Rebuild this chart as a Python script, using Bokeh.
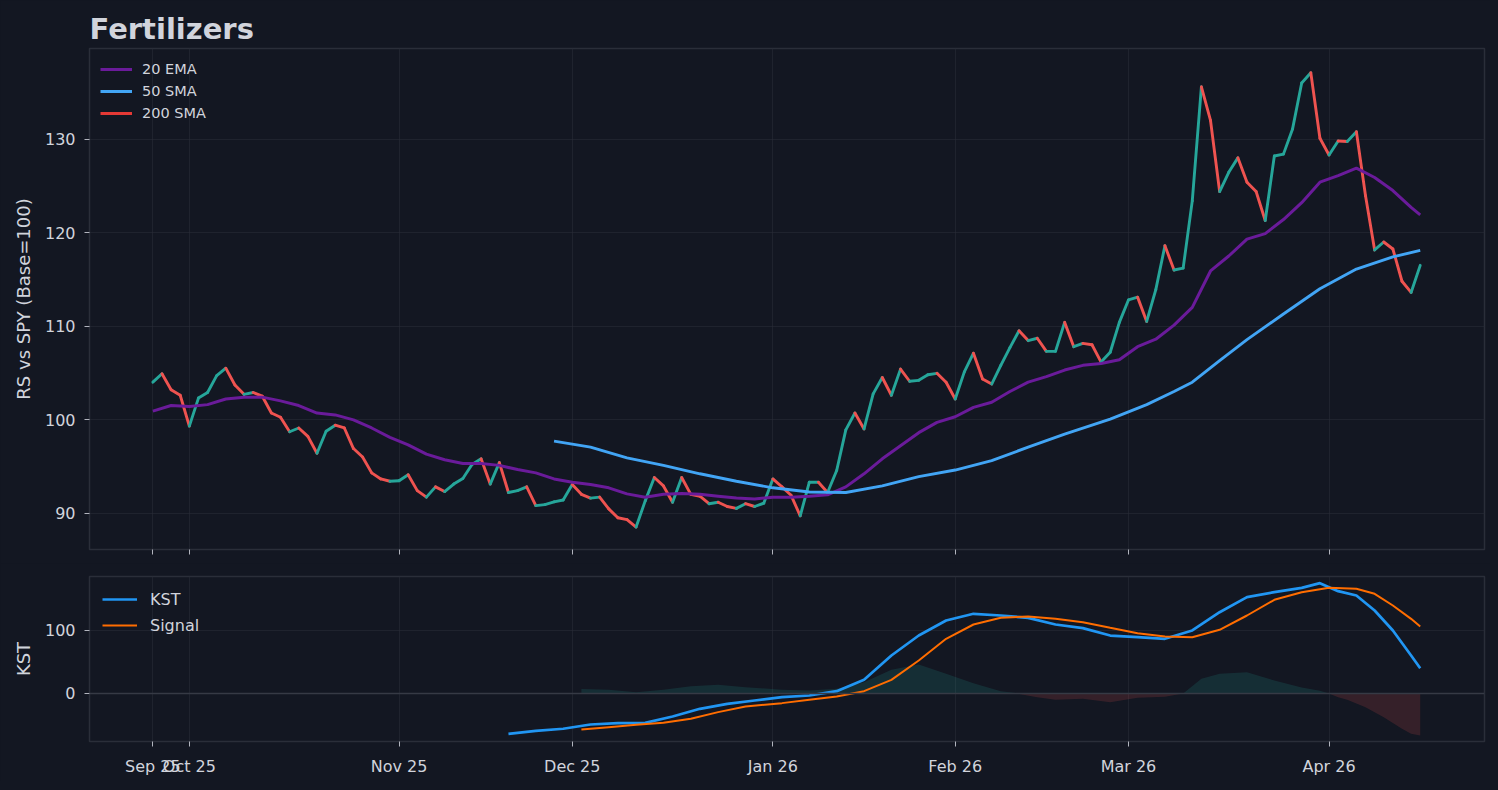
import numpy as np
import pandas as pd
from bokeh.plotting import figure
from bokeh.layouts import column
from bokeh.models import Range1d, FixedTicker, Legend, LegendItem, ColumnDataSource, Span
from bokeh.embed import file_html
from bokeh.resources import INLINE

# ---------------- data ----------------
holidays = ["2025-11-27", "2025-12-25", "2026-01-01", "2026-01-19", "2026-02-16", "2026-04-03"]
dates = pd.bdate_range("2025-09-25", "2026-04-16", freq="C", holidays=holidays)

rs_price = [
    104.0, 104.9, 103.2, 102.6, 99.3, 102.3, 102.9, 104.7, 105.5, 103.7,
    102.7, 102.9, 102.5, 100.7, 100.25, 98.7, 99.1, 98.2, 96.4, 98.75,
    99.4, 99.1, 96.9, 96.0, 94.3, 93.65, 93.4, 93.45, 94.1, 92.4,
    91.7, 92.8, 92.3, 93.1, 93.7, 95.2, 95.8, 93.1, 95.4, 92.2,
    92.4, 92.8, 90.8, 90.9, 91.2, 91.4, 93.05, 92.0, 91.6, 91.7,
    90.45, 89.5, 89.3, 88.5, 91.3, 93.8, 92.9, 91.15, 93.8, 92.0,
    91.8, 91.0, 91.15, 90.7, 90.5, 91.0, 90.7, 91.05, 93.65, 92.8,
    91.9, 89.7, 93.3, 93.3, 92.2, 94.55, 98.9, 100.7, 99.0, 102.75,
    104.5, 102.6, 105.4, 104.1, 104.2, 104.8, 104.95, 104.0, 102.2, 105.1,
    107.1, 104.35, 103.8, 105.8, 107.7, 109.5, 108.45, 108.7, 107.3, 107.3,
    110.4, 107.8, 108.15, 108.0, 106.15, 107.2, 110.4, 112.8, 113.1, 110.5,
    113.9, 118.6, 116.0, 116.2, 123.4, 135.6, 132.0, 124.4, 126.45, 128.0,
    125.4, 124.4, 121.3, 128.2, 128.4, 131.1, 136.0, 137.1, 130.1, 128.3,
    129.8, 129.75, 130.8, 123.95, 118.15, 119.0, 118.25, 114.8, 113.6, 116.5,
]

ema20_idx = list(range(0, 139, 2)) + [139]
ema20 = [
    100.9, 101.5, 101.4, 101.6, 102.2, 102.4, 102.4, 102.0, 101.5, 100.7,
    100.5, 99.97, 99.1, 98.1, 97.3, 96.3, 95.7, 95.3, 95.3, 95.1,
    94.65, 94.3, 93.65, 93.3, 93.05, 92.7, 92.05, 91.7, 92.0, 92.1,
    92.0, 91.8, 91.6, 91.5, 91.7, 91.7, 91.8, 91.95, 92.8, 94.2,
    95.8, 97.2, 98.6, 99.7, 100.3, 101.3, 101.85, 103.0, 104.0, 104.6,
    105.3, 105.8, 106.0, 106.4, 107.8, 108.6, 110.1, 112.0, 115.9, 117.5,
    119.3, 119.9, 121.4, 123.2, 125.4, 126.1, 126.9, 125.9, 124.5, 122.7,
    121.9,
]

sma50_idx = [44, 48, 52, 56, 60, 64, 68, 72, 76, 80, 84, 88, 92, 96, 100, 105,
             109, 112, 114, 117, 120, 124, 128, 132, 136, 139]
sma50 = [97.7, 97.05, 95.9, 95.1, 94.2, 93.4, 92.7, 92.25, 92.2, 92.9, 93.9, 94.6,
         95.6, 97.05, 98.45, 100.05, 101.6, 103.0, 104.0, 106.3, 108.55, 111.3, 114.0,
         116.1, 117.4, 118.1]

# 200 SMA: not enough history in the window -> no visible values, legend entry only
sma200_idx = [0, 1]
sma200 = [float("nan"), float("nan")]

kst_idx = [39, 42, 45, 48, 51, 54, 57, 60, 63, 66, 69, 72, 75, 78, 81, 84, 87, 90,
           93, 96, 99, 102, 105, 108, 111, 114, 117, 120, 123, 126, 128, 130, 132,
           134, 136, 138, 139]
kst = [-64, -59.3, -56, -49.2, -47.1, -46.6, -36.5, -24.3, -16.4, -11.1, -5.8, -3.2,
       3.7, 21.7, 60.3, 92, 115.9, 126.5, 123.8, 120.1, 109.5, 103.7, 92, 89.4, 86.8,
       100, 129, 152.9, 160.8, 167.7, 175.1, 162.4, 155.6, 131.7, 100, 60.3, 40.2]

signal_idx = [47, 50, 53, 56, 59, 62, 65, 69, 72, 75, 78, 81, 84, 87, 90, 93, 96, 99,
              102, 105, 108, 111, 114, 117, 120, 123, 126, 129, 132, 134, 136, 138, 139]
signal = [-57, -53.4, -49.8, -46.6, -40.2, -29.6, -20.6, -15.3, -10, -4.8, 3.7, 21.7,
          52.4, 86.8, 109.5, 120.1, 122.2, 118.5, 113.2, 104.2, 95.7, 90.5, 89.4, 101.1,
          123.8, 148.7, 160.8, 167.7, 166.2, 158.2, 139.7, 118.5, 106.3]

hist_idx = [47, 50, 53, 56, 59, 62, 65, 69, 72, 75, 78, 81, 84, 87, 90, 93, 95, 97,
            99, 102, 105, 108, 111, 113, 115, 117, 120, 123, 126, 128, 129, 130, 131,
            133, 135, 137, 138, 139]
hist = [7, 6, 2, 6, 11.6, 14, 10, 6, 4.8, 7.4, 18, 37.6, 46, 31.2, 16.4, 3.7, -1, -5.8,
        -10, -8.5, -13.8, -6.9, -5.3, 0, 23.3, 31.2, 33.9, 20.6, 9.5, 4.2, 0, -6, -10,
        -21.7, -37.6, -56, -64, -66.7]

y_ticks_rs = [90, 100, 110, 120, 130]
y_ticks_kst = [0, 100]

# month tick positions (first trading day of each month, index based)
month_first = {}
for i, d in enumerate(dates):
    key = (d.year, d.month)
    if key not in month_first:
        month_first[key] = i
tick_idx = list(month_first.values())
tick_labels = [dates[i].strftime("%b %y") for i in tick_idx]

# ---------------- style ----------------
BG = "#131722"
TXT = "#d1d4dc"
GRID = "#2a2e39"
FONT = "DejaVu Sans"
UP = "#26a69a"
DOWN = "#ef5350"

xr = Range1d(-6.95, 146.05)


def style(f):
    f.background_fill_color = BG
    f.border_fill_color = BG
    f.outline_line_color = GRID
    f.outline_line_width = 1.5
    f.grid.grid_line_color = GRID
    f.grid.grid_line_alpha = 0.55
    for ax in f.axis:
        ax.axis_line_color = None
        ax.major_tick_line_color = "#b2b5be"
        ax.major_tick_line_width = 1
        ax.major_tick_out = 5
        ax.major_tick_in = 0
        ax.minor_tick_line_color = None
        ax.major_label_text_color = TXT
        ax.major_label_text_font = FONT
        ax.major_label_text_font_size = "16px"
        ax.axis_label_text_color = TXT
        ax.axis_label_text_font = FONT
        ax.axis_label_text_font_size = "18px"
        ax.axis_label_text_font_style = "normal"


def style_legend(lg, size, gw, standoff, spacing, margin):
    lg.background_fill_alpha = 0
    lg.border_line_color = None
    lg.label_text_color = TXT
    lg.label_text_font = FONT
    lg.label_text_font_size = size
    lg.glyph_width = gw
    lg.label_standoff = standoff
    lg.spacing = spacing
    lg.margin = margin
    lg.padding = 10


# ---------------- top panel ----------------
p = figure(width=1490, height=563, x_range=xr, y_range=Range1d(86.1, 139.7),
           output_backend="svg", toolbar_location=None,
           min_border_left=89, min_border_right=6, min_border_top=48, min_border_bottom=14)
style(p)
p.title.text = "Fertilizers"
p.title.text_font = FONT
p.title.text_font_size = "29px"
p.title.text_font_style = "bold"
p.title.text_color = TXT
p.title.standoff = 5
p.title.align = "left"

p.xaxis.ticker = FixedTicker(ticks=tick_idx)
p.xaxis.major_label_text_font_size = "0px"
p.xaxis.major_label_text_color = None
p.xaxis.major_label_standoff = 0
p.yaxis.ticker = FixedTicker(ticks=y_ticks_rs)
p.yaxis.axis_label = "RS vs SPY (Base=100)"
p.yaxis.major_label_standoff = 9
p.yaxis.axis_label_standoff = 8

n = len(rs_price)
seg = ColumnDataSource(dict(
    x0=list(range(n - 1)), x1=list(range(1, n)),
    y0=rs_price[:-1], y1=rs_price[1:],
    c=[UP if rs_price[i + 1] >= rs_price[i] else DOWN for i in range(n - 1)],
))
p.segment(x0="x0", y0="y0", x1="x1", y1="y1", color="c", line_width=2.9,
          line_cap="round", source=seg)

r_ema = p.line(ema20_idx, ema20, color="#6a1b9a", line_width=3)
r_sma50 = p.line(sma50_idx, sma50, color="#42a5f5", line_width=2.9)
r_sma200 = p.line(sma200_idx, sma200, color="#e53935", line_width=2.9)

leg = Legend(items=[LegendItem(label="20 EMA", renderers=[r_ema]),
                    LegendItem(label="50 SMA", renderers=[r_sma50]),
                    LegendItem(label="200 SMA", renderers=[r_sma200])],
             location="top_left")
style_legend(leg, "14.5px", 32, 10, 2, 11)
p.add_layout(leg)

# ---------------- bottom panel ----------------
q = figure(width=1490, height=218, x_range=xr, y_range=Range1d(-76.2, 185.7),
           output_backend="svg", toolbar_location=None,
           min_border_left=89, min_border_right=6, min_border_top=13, min_border_bottom=40)
style(q)
q.xaxis.ticker = FixedTicker(ticks=tick_idx)
q.xaxis.major_label_overrides = {i: lab for i, lab in zip(tick_idx, tick_labels)}
q.xaxis.major_label_standoff = 10
q.yaxis.ticker = FixedTicker(ticks=y_ticks_kst)
q.yaxis.axis_label = "KST"
q.yaxis.major_label_standoff = 9
q.yaxis.axis_label_standoff = 8

h = np.array(hist, dtype=float)
q.varea(x=hist_idx, y1=np.zeros_like(h), y2=np.maximum(h, 0), fill_color=UP, fill_alpha=0.16)
q.varea(x=hist_idx, y1=np.zeros_like(h), y2=np.minimum(h, 0), fill_color=DOWN, fill_alpha=0.16)
q.add_layout(Span(location=0, dimension="width", line_color="#363a45", line_width=1.5))

r_kst = q.line(kst_idx, kst, color="#2196f3", line_width=2.7)
r_sig = q.line(signal_idx, signal, color="#ff6d00", line_width=2)

leg2 = Legend(items=[LegendItem(label="KST", renderers=[r_kst]),
                     LegendItem(label="Signal", renderers=[r_sig])],
              location="top_left")
style_legend(leg2, "16px", 35, 13, 6, 13)
q.add_layout(leg2)

layout = column(p, q, spacing=0)
html = file_html(layout, INLINE, title="Fertilizers")
html = html.replace("<head>", "<head><style>html,body{background:#131722;}</style>", 1)
open("out.html", "w").write(html)
